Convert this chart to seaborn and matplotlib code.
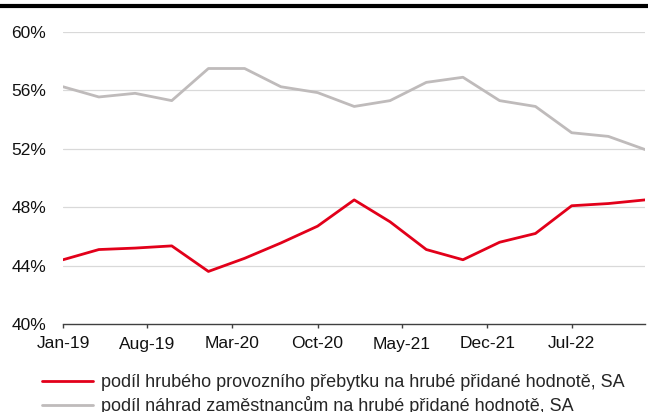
import numpy as np
import pandas as pd
import matplotlib
matplotlib.use("Agg")
import matplotlib.pyplot as plt
import matplotlib.dates as mdates
from matplotlib.lines import Line2D
from matplotlib.ticker import FuncFormatter
import seaborn as sns

# quarterly shares of gross value added, % (SA)
quarters = pd.date_range("2019-01-01", periods=17, freq="QS")
surplus = [44.4, 45.1, 45.2, 45.35, 43.6, 44.5, 45.55, 46.7, 48.5, 47.0,
           45.1, 44.4, 45.6, 46.2, 48.1, 48.25, 48.5]
compensation = [56.25, 55.55, 55.8, 55.3, 57.5, 57.5, 56.25, 55.85, 54.9, 55.3,
                56.55, 56.9, 55.3, 54.9, 53.1, 52.85, 51.95]
labels = ["podíl hrubého provozního přebytku na hrubé přidané hodnotě, SA",
          "podíl náhrad zaměstnancům na hrubé přidané hodnotě, SA"]
RED, GREY = "#E2001A", "#BFBBBB"

df = pd.concat([
    pd.DataFrame({"date": quarters, "value": surplus, "series": labels[0]}),
    pd.DataFrame({"date": quarters, "value": compensation, "series": labels[1]}),
])

sns.set_theme(style="white")
plt.rcParams["font.family"] = ["Liberation Sans", "DejaVu Sans"]

fig = plt.figure(figsize=(6.48, 4.12), dpi=100)
ax = fig.add_axes([63 / 648, 1 - 324 / 412, 582 / 648, 292 / 412])
sns.lineplot(data=df, x="date", y="value", hue="series",
             palette=[RED, GREY], linewidth=2.0, ax=ax, legend=False)

ax.set_ylim(40, 60)
ax.set_yticks(np.arange(40, 61, 4))
ax.yaxis.set_major_formatter(FuncFormatter(lambda v, _: f"{v:.0f}%"))
ax.set_xlim(quarters[0], quarters[-1])
ax.set_xticks(pd.date_range("2019-01-01", periods=7, freq="7MS"))
ax.xaxis.set_major_formatter(mdates.DateFormatter("%b-%y"))
ax.set_xlabel(""); ax.set_ylabel("")

for y in [44, 48, 52, 56, 60]:
    ax.axhline(y, color="#D9D9D9", linewidth=0.9, zorder=0)
for s in ["top", "right", "left"]:
    ax.spines[s].set_visible(False)
ax.spines["bottom"].set_color("#404040")
ax.spines["bottom"].set_linewidth(1.0)
ax.tick_params(axis="x", bottom=True, length=3, width=1, color="#404040",
               labelsize=12.5, pad=6, labelcolor="#111111")
ax.tick_params(axis="y", left=False, length=0, labelsize=12.5, pad=12,
               labelcolor="#111111")

# thick black rule on top of the figure
fig.add_artist(Line2D([0, 1], [1 - 5.5 / 412, 1 - 5.5 / 412], color="black",
                      linewidth=3, transform=fig.transFigure))

handles = [Line2D([], [], color=RED, linewidth=2.0),
           Line2D([], [], color=GREY, linewidth=2.0)]
fig.legend(handles, labels, loc="upper left",
           bbox_to_anchor=(42 / 648, 1 - 374 / 412), frameon=False,
           fontsize=13, handlelength=2.85, handletextpad=0.4,
           borderpad=0, borderaxespad=0, labelspacing=0.3)

fig.savefig("out.png", dpi=100)
